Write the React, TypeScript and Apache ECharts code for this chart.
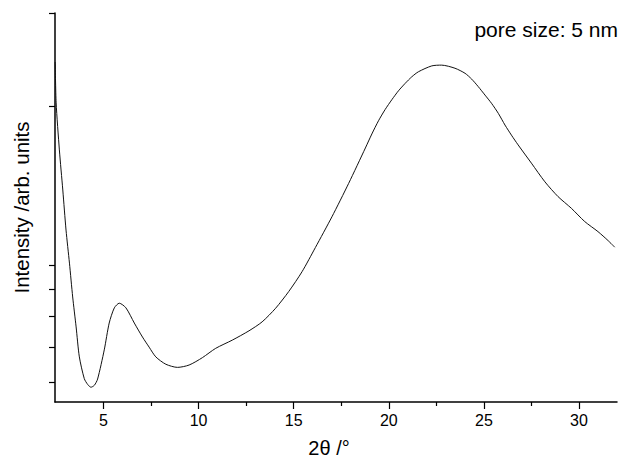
import React, { useEffect, useRef } from "react";
import * as echarts from "echarts";

// 2θ (degrees)
const twoTheta = [
  2.46, 2.51, 2.68, 2.86, 3.03, 3.21, 3.38, 3.56, 3.73, 3.99, 4.17, 4.34, 4.52, 4.69, 5.04, 5.3,
  5.57, 5.83, 6.18, 6.62, 7.05, 7.4, 7.75, 8.28, 8.89, 9.5, 10.2, 10.9, 11.77, 12.65, 13.34,
  14.05, 14.74, 15.44, 16.14, 17.01, 17.89, 18.77, 19.11, 19.46, 19.81, 20.16, 20.51, 20.86,
  21.21, 21.56, 22.26, 22.78, 23.48, 24.01, 24.36, 24.7, 25.06, 25.4, 25.76, 26.11, 26.45, 26.8,
  27.5, 28.21, 28.9, 29.6, 30.3, 31.0, 31.53, 31.88,
];
// Intensity (arb. units)
const intensity = [
  87.4, 76.9, 64.8, 54.5, 44.2, 35.7, 27.0, 19.3, 11.6, 6.0, 4.5, 3.8, 4.3, 5.9, 13.4, 20.3,
  24.2, 25.4, 24.2, 20.3, 16.7, 14.1, 11.6, 9.7, 8.9, 9.5, 11.4, 13.8, 15.9, 18.3, 20.6, 24.1,
  28.4, 33.5, 39.7, 47.6, 56.2, 65.3, 68.9, 72.3, 75.2, 77.7, 80.0, 81.9, 83.6, 84.9, 86.4,
  86.6, 85.8, 84.5, 83.0, 81.1, 78.9, 76.8, 74.2, 71.2, 68.6, 66.1, 61.4, 56.6, 52.8, 49.8,
  46.4, 43.8, 41.5, 39.8,
];

const xMajorTicks = [5, 10, 15, 20, 25, 30];
const xMinorTicks = [7.5, 12.5, 17.5, 22.5, 27.5];
const yTicks = [5.1, 14.1, 22.1, 29.0, 35.2, 76.1, 100];

const FONT = "'Liberation Sans', Arial, Helvetica, sans-serif";

export default function App() {
  const ref = useRef<HTMLDivElement>(null);
  useEffect(() => {
    if (!ref.current) return;
    const chart = echarts.init(ref.current, null, { renderer: "svg" });
    const data = twoTheta.map((x, i) => [x, intensity[i]]);
    chart.setOption({
      animation: false,
      backgroundColor: "#ffffff",
      grid: { left: 55, right: 5, top: 13, bottom: 61 },
      xAxis: [
        {
          type: "value",
          min: 2.45,
          max: 32,
          position: "bottom",
          name: "2θ /°",
          nameLocation: "middle",
          nameGap: 36,
          nameTextStyle: { fontFamily: FONT, fontSize: 20, color: "#000", padding: [0, 14, 0, 0] },
          axisLine: { show: true, onZero: false, lineStyle: { color: "#000", width: 1.5 } },
          axisTick: { show: true, inside: false, length: 7, customValues: xMajorTicks, lineStyle: { color: "#000", width: 1.2 } },
          axisLabel: { show: true, customValues: xMajorTicks, margin: 10, fontFamily: FONT, fontSize: 16, color: "#000" },
          splitLine: { show: false },
        },
        {
          type: "value",
          min: 2.45,
          max: 32,
          position: "bottom",
          axisLine: { show: false, onZero: false },
          axisTick: { show: true, inside: false, length: 4, customValues: xMinorTicks, lineStyle: { color: "#000", width: 1.2 } },
          axisLabel: { show: false },
          splitLine: { show: false },
        },
      ],
      yAxis: {
        type: "value",
        min: 0,
        max: 100,
        name: "Intensity /arb. units",
        nameLocation: "middle",
        nameGap: 23,
        nameRotate: 90,
        nameTextStyle: { fontFamily: FONT, fontSize: 20.5, color: "#000" },
        axisLine: { show: true, onZero: false, lineStyle: { color: "#000", width: 1.5 } },
        axisTick: { show: true, inside: false, length: 6, customValues: yTicks, lineStyle: { color: "#000", width: 1.2 } },
        axisLabel: { show: false },
        splitLine: { show: false },
      },
      graphic: [
        {
          type: "text",
          right: 4,
          top: 19,
          style: { text: "pore size: 5 nm", font: `21px ${FONT}`, fill: "#000" },
        },
      ],
      series: [
        {
          type: "line",
          xAxisIndex: 0,
          data,
          smooth: 0.25,
          showSymbol: false,
          lineStyle: { color: "#111", width: 1 },
        },
      ],
    });
    return () => chart.dispose();
  }, []);
  return (
    <div
      ref={ref}
      style={{ position: "fixed", left: 0, top: 0, width: 622, height: 463, background: "#fff" }}
    />
  );
}
